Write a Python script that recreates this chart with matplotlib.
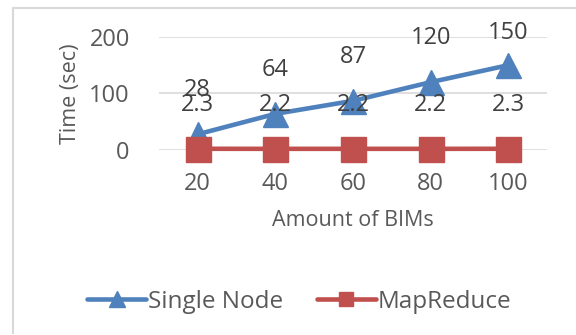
import numpy as np
import matplotlib
matplotlib.use('Agg')
import matplotlib.pyplot as plt
from matplotlib.lines import Line2D

plt.rcParams['font.family'] = ['Open Sans', 'DejaVu Sans']

amounts = ['20', '40', '60', '80', '100']
single_node = [28, 64, 87, 120, 150]
mapreduce = [2.3, 2.2, 2.2, 2.2, 2.3]

txt = '#595959'
blue = '#4F81BD'
red = '#C0504D'

fig = plt.figure(figsize=(5.76, 3.35), dpi=100)
ax = fig.add_axes([0.276, 0.552, 0.674, 0.338])

x = np.arange(len(amounts))
ax.plot(x, single_node, color=blue, lw=3.3, marker='^', ms=18, label='Single Node',
        solid_capstyle='round', zorder=3)
ax.plot(x, mapreduce, color=red, lw=3.3, marker='s', ms=18, label='MapReduce',
        solid_capstyle='round', zorder=3)

# labels sit above the points, kept under the top of the chart area
for i in x:
    ax.text(i, min(single_node[i] + 78, 207), str(single_node[i]), ha='center', va='center',
            fontsize=17, color='#404040')
    ax.text(i, mapreduce[i] + 78, str(mapreduce[i]), ha='center', va='center',
            fontsize=17, color='#404040')

ax.set_xlim(-0.5, len(amounts) - 0.5)
ax.set_ylim(0, 200)
ax.set_yticks([0, 100, 200])
ax.set_xticks(x)
ax.set_xticklabels(amounts)
ax.grid(axis='y', color='#D9D9D9', lw=1.2)
ax.set_axisbelow(True)
for s in ax.spines.values():
    s.set_visible(False)
ax.tick_params(length=0, labelsize=17, labelcolor=txt)
ax.tick_params(axis='y', pad=21)
ax.tick_params(axis='x', pad=16)
ax.set_xlabel('Amount of BIMs', fontsize=15.5, color=txt, labelpad=10)
ax.set_ylabel('Time (sec)', fontsize=15.5, color=txt, labelpad=6)
for ln in ax.lines:
    ln.set_clip_on(False)

handles = [Line2D([], [], color=blue, lw=3.3, marker='^', ms=11, solid_capstyle='round'),
           Line2D([], [], color=red, lw=3.3, marker='s', ms=10, solid_capstyle='round')]
fig.legend(handles, ['Single Node', 'MapReduce'], loc='center', bbox_to_anchor=(0.52, 0.10),
           ncol=2, frameon=False, fontsize=17.5, labelcolor=txt, handlelength=2.4,
           handletextpad=0.1, columnspacing=1.4)

fig.add_artist(Line2D([13 / 576, 13 / 576], [2 / 335, 327 / 335], color='#D9D9D9', lw=1.5,
                      transform=fig.transFigure))
fig.add_artist(Line2D([13 / 576, 1], [327 / 335, 327 / 335], color='#D9D9D9', lw=1.5,
                      transform=fig.transFigure))

fig.savefig('out.png', dpi=100)
